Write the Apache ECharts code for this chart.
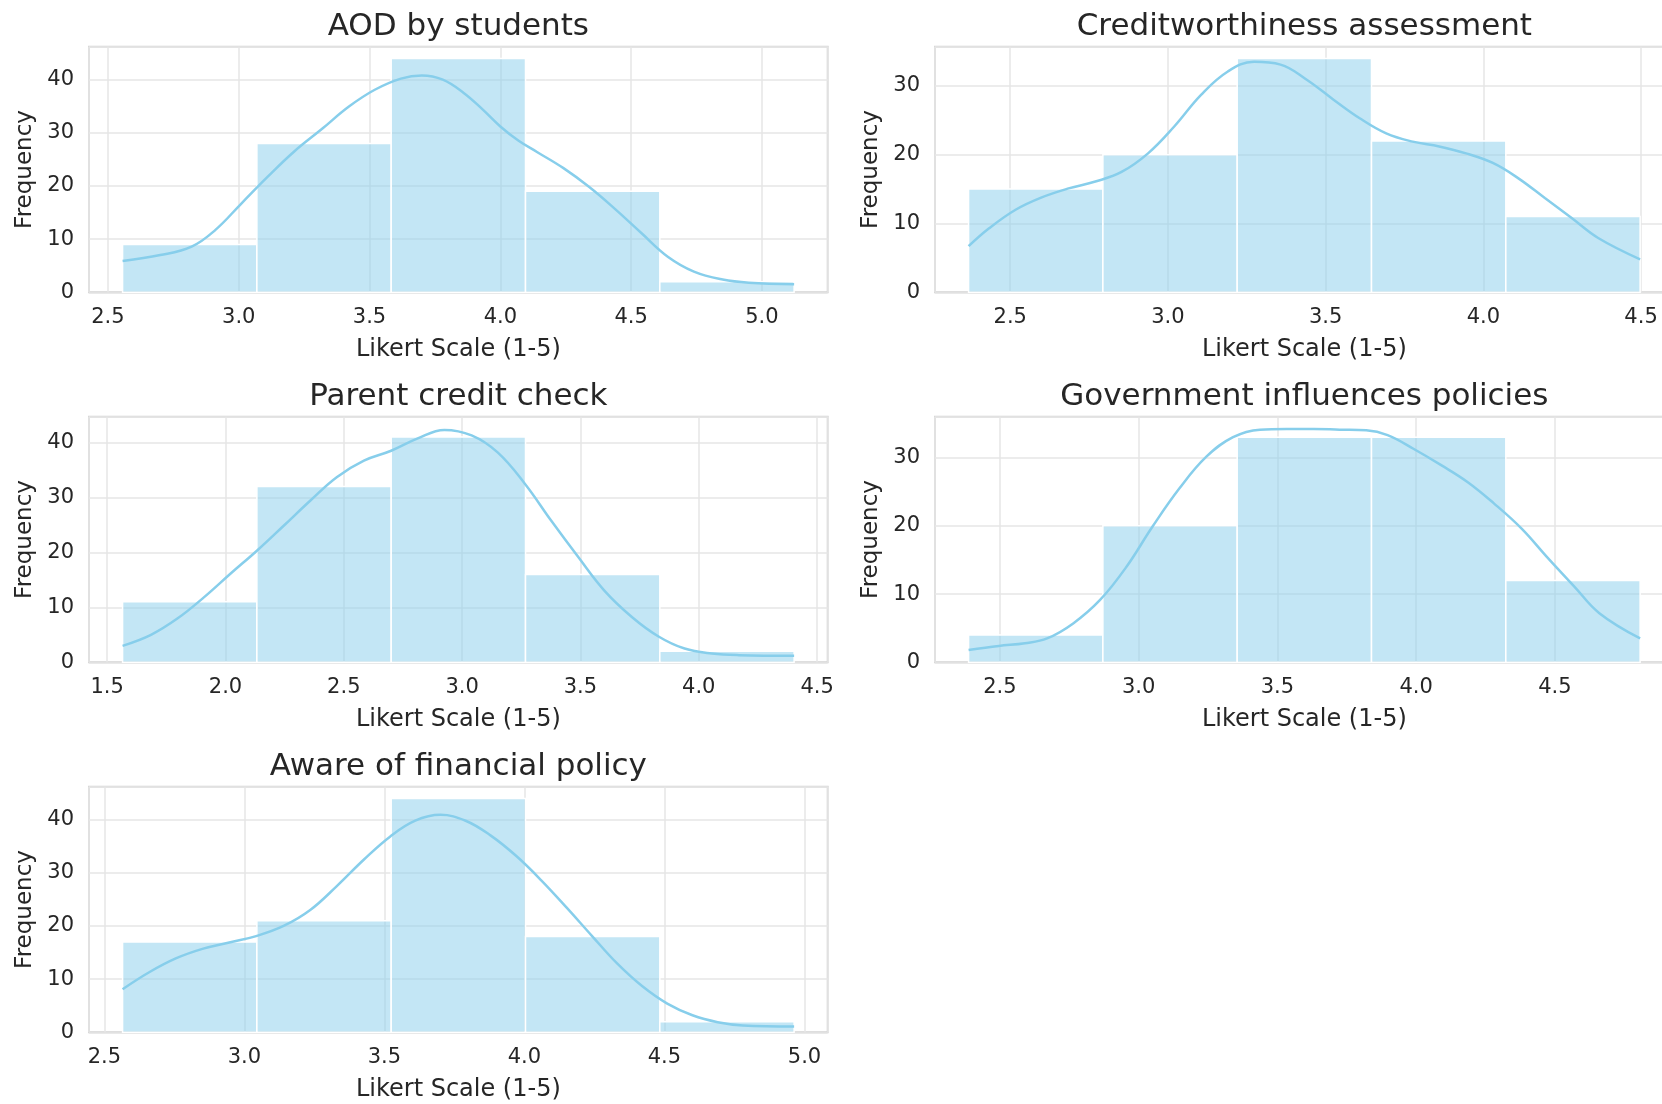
<!DOCTYPE html>
<html>
<head>
<meta charset="utf-8">
<script src="https://cdn.jsdelivr.net/npm/echarts@6/dist/echarts.min.js"></script>
<style>
html,body{margin:0;padding:0;background:#ffffff;}
#chart{width:1662px;height:1104px;}
</style>
</head>
<body>
<div id="chart"></div>
<script>
// ---------- data ----------
const panelTitles = ["AOD by students", "Creditworthiness assessment", "Parent credit check", "Government influences policies", "Aware of financial policy"];
const xAxisTitle = "Likert Scale (1-5)";
const yAxisTitle = "Frequency";

// histogram range (first bin left edge, last bin right edge)
const binStart = [2.556, 2.368, 1.565, 2.387, 2.565];
const binEnd   = [5.123, 4.497, 4.403, 4.807, 4.963];

// bin counts (5 bins each)
const aodCounts        = [9, 28, 44, 19, 2];
const creditCounts     = [15, 20, 34, 22, 11];
const parentCounts     = [11, 32, 41, 16, 2];
const governmentCounts = [4, 20, 33, 33, 12];
const awareCounts      = [17, 21, 44, 18, 2];

// KDE curves (scaled to counts)
const aodKde = [[2.556,5.9],[2.70,7.0],[2.82,8.6],[2.91,11.7],[3.01,16.7],[3.11,21.7],[3.21,26.4],[3.32,30.8],[3.42,34.9],[3.52,38.1],[3.62,40.2],[3.70,40.8],[3.78,40.0],[3.86,37.5],[3.93,34.5],[4.00,31.2],[4.07,28.5],[4.14,26.4],[4.24,23.4],[4.34,19.8],[4.44,15.6],[4.54,11.1],[4.64,6.7],[4.74,3.9],[4.85,2.4],[4.95,1.8],[5.123,1.5]];
const creditKde = [[2.368,6.7],[2.433,9.3],[2.517,12.0],[2.60,13.8],[2.685,15.1],[2.77,16.1],[2.853,17.5],[2.937,20.2],[3.02,24.1],[3.105,28.7],[3.19,32.1],[3.273,33.5],[3.357,33.1],[3.44,30.9],[3.525,28.0],[3.608,25.3],[3.692,23.1],[3.776,21.9],[3.86,21.2],[3.945,20.2],[4.03,18.8],[4.11,16.6],[4.195,13.7],[4.28,10.8],[4.364,7.9],[4.497,4.8]];
const parentKde = [[1.565,3.0],[1.685,5.0],[1.798,8.0],[1.911,11.9],[2.023,16.2],[2.135,20.4],[2.247,24.9],[2.36,29.5],[2.47,33.7],[2.585,36.7],[2.70,38.5],[2.81,40.7],[2.925,42.3],[3.04,41.3],[3.15,38.2],[3.265,32.5],[3.376,25.8],[3.49,19.2],[3.60,13.1],[3.716,8.3],[3.83,4.7],[3.94,2.5],[4.055,1.6],[4.17,1.3],[4.403,1.2]];
const governmentKde = [[2.387,1.8],[2.496,2.4],[2.59,2.8],[2.67,3.5],[2.764,5.7],[2.86,9.1],[2.956,14.0],[3.05,19.9],[3.147,25.5],[3.243,30.1],[3.34,33.0],[3.437,34.1],[3.533,34.2],[3.63,34.2],[3.724,34.1],[3.82,34.0],[3.897,33.3],[3.99,31.3],[4.09,28.9],[4.186,26.4],[4.28,23.3],[4.38,19.6],[4.47,15.5],[4.57,11.1],[4.66,7.2],[4.807,3.5]];
const awareKde = [[2.565,8.1],[2.66,11.3],[2.755,13.9],[2.85,15.7],[2.946,16.9],[3.042,18.1],[3.14,20.0],[3.235,23.0],[3.33,27.5],[3.427,32.5],[3.52,36.8],[3.61,39.8],[3.70,40.9],[3.79,39.8],[3.88,37.0],[3.97,33.2],[4.06,28.6],[4.15,23.5],[4.24,18.2],[4.33,13.0],[4.42,8.7],[4.51,5.4],[4.60,3.2],[4.69,1.9],[4.78,1.3],[4.963,1.1]];

// y-axis upper limits
const yAxisMax = [46.2, 35.7, 44.7, 36.0, 46.2];
const xTickStep = 0.5;
const yTickStep = 10;

const allCounts = [aodCounts, creditCounts, parentCounts, governmentCounts, awareCounts];
const allKde = [aodKde, creditKde, parentKde, governmentKde, awareKde];

// ---------- layout ----------
const colLeft = [89, 935];
const rowTop = [46.7, 416.7, 786.7];
const plotW = 738.7;
const plotH = 245.6;
const FONT = "'DejaVu Sans', sans-serif";
const TXT = '#262626';

const grids = [], xAxes = [], yAxes = [], series = [], titles = [];

for (let i = 0; i < 5; i++) {
  const col = i % 2, row = Math.floor(i / 2);
  const left = colLeft[col], top = rowTop[row];
  grids.push({left: left, top: top, width: plotW, height: plotH, show: true,
    borderColor: '#d4d4d4', borderWidth: 2, backgroundColor: 'transparent',
    containLabel: false, outerBoundsMode: 'none'});

  titles.push({text: panelTitles[i], left: left + plotW / 2, top: top - 35, textAlign: 'center', padding: 0,
    textStyle: {fontFamily: FONT, fontSize: 31, fontWeight: 'normal', color: TXT}});

  const lo = binStart[i], hi = binEnd[i], span = hi - lo;
  xAxes.push({type: 'value', gridIndex: i, min: lo - 0.05 * span, max: hi + 0.05 * span,
    minInterval: xTickStep, maxInterval: xTickStep, splitNumber: 5,
    name: xAxisTitle, nameLocation: 'middle', nameGap: 45,
    nameTextStyle: {fontFamily: FONT, fontSize: 24, color: TXT},
    axisLine: {show: false}, axisTick: {show: false},
    axisLabel: {fontFamily: FONT, fontSize: 21, color: TXT, margin: 15,
      showMinLabel: true, showMaxLabel: true, hideOverlap: false,
      formatter: v => (Math.abs(v / xTickStep - Math.round(v / xTickStep)) < 1e-6 ? v.toFixed(1) : '')},
    splitLine: {show: true, lineStyle: {color: '#e6e6e6', width: 1.5}}});

  yAxes.push({type: 'value', gridIndex: i, min: 0, max: yAxisMax[i],
    minInterval: yTickStep, maxInterval: yTickStep, splitNumber: 5,
    name: yAxisTitle, nameLocation: 'middle', nameGap: 52,
    nameTextStyle: {fontFamily: FONT, fontSize: 23, color: TXT},
    axisLine: {show: false}, axisTick: {show: false},
    axisLabel: {fontFamily: FONT, fontSize: 21, color: TXT, margin: 15,
      showMinLabel: true, showMaxLabel: true, hideOverlap: false,
      formatter: v => (Math.abs(v % yTickStep) < 1e-6 ? String(Math.round(v)) : '')},
    splitLine: {show: true, lineStyle: {color: '#e6e6e6', width: 1.5}}});

  const counts = allCounts[i];
  const w = span / counts.length;
  const barData = counts.map((c, k) => [lo + k * w, lo + (k + 1) * w, c]);
  series.push({type: 'custom', xAxisIndex: i, yAxisIndex: i, z: 2,
    encode: {x: [0, 1], y: 2},
    data: barData,
    renderItem: function (params, api) {
      const p0 = api.coord([api.value(0), 0]);
      const p1 = api.coord([api.value(1), api.value(2)]);
      return {type: 'rect',
        shape: {x: p0[0], y: p1[1], width: p1[0] - p0[0], height: p0[1] - p1[1]},
        style: {fill: 'rgba(135,206,235,0.5)', stroke: '#ffffff', lineWidth: 1.5}};
    }});
  series.push({type: 'line', xAxisIndex: i, yAxisIndex: i, z: 3,
    data: allKde[i], smooth: 0.4, showSymbol: false, symbol: 'none',
    lineStyle: {color: '#87CEEB', width: 2.5}});
}

const chart = echarts.init(document.getElementById('chart'), null, {renderer: 'canvas', width: 1662, height: 1104});
chart.setOption({
  backgroundColor: '#ffffff',
  animation: false,
  textStyle: {fontFamily: FONT},
  title: titles,
  grid: grids,
  xAxis: xAxes,
  yAxis: yAxes,
  series: series
});
</script>
</body>
</html>
